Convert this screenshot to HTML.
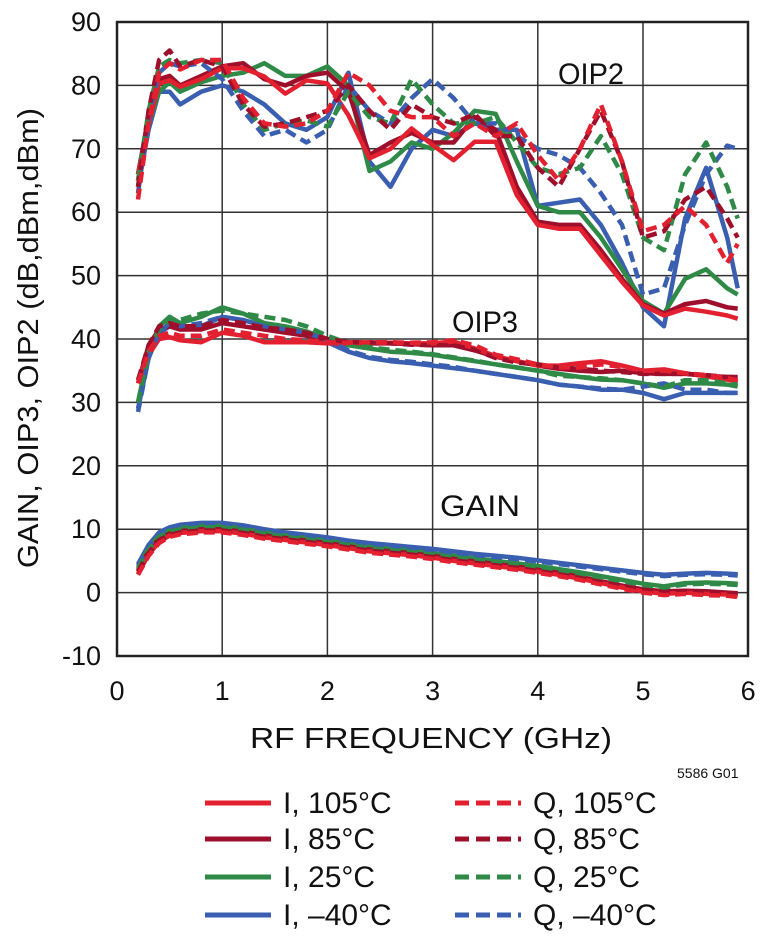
<!DOCTYPE html>
<html><head><meta charset="utf-8"><style>
html,body{margin:0;padding:0;background:#fff}
svg{display:block}
text{font-family:"Liberation Sans Narrow","Liberation Sans",sans-serif;fill:#111}
</style></head><body>
<svg id="chart" width="760" height="938" viewBox="0 0 760 938" xmlns="http://www.w3.org/2000/svg">
<g id="grid"></g>
<g id="series"></g>
<rect x="117" y="22" width="631" height="634" fill="none" stroke="#222" stroke-width="2.5"/>
<g id="ticks"></g>
<text x="558" y="84" font-size="30" textLength="66" lengthAdjust="spacingAndGlyphs">OIP2</text>
<text x="452" y="332" font-size="30" textLength="66" lengthAdjust="spacingAndGlyphs">OIP3</text>
<text x="440" y="516" font-size="30" textLength="80" lengthAdjust="spacingAndGlyphs">GAIN</text>
<text x="250" y="748" font-size="29" textLength="362" lengthAdjust="spacingAndGlyphs">RF FREQUENCY (GHz)</text>
<text transform="translate(38,338) rotate(-90)" text-anchor="middle" font-size="29" textLength="460" lengthAdjust="spacingAndGlyphs">GAIN, OIP3, OIP2 (dB,dBm,dBm)</text>
<text x="677" y="778" font-size="14">5586 G01</text>
<g id="legend"></g>
</svg>
<script>
const freqs=[0.2,0.3,0.4,0.5,0.6,0.8,1.0,1.2,1.4,1.6,1.8,2.0,2.2,2.4,2.6,2.8,3.0,3.2,3.4,3.6,3.8,4.0,4.2,4.4,4.6,4.8,5.0,5.2,5.4,5.6,5.8,5.9];
const xTicks=[0,1,2,3,4,5,6];
const yTicks=[90,80,70,60,50,40,30,20,10,0,-10];
const seriesNames=["I, 105°C","I, 85°C","I, 25°C","I, –40°C","Q, 105°C","Q, 85°C","Q, 25°C","Q, –40°C"];
const oip2_I105=[66,74,80.3,80.8,79.8,81,82.7,82.7,81.4,78.7,80.8,80.3,75.3,68.5,70,73.2,70.6,68.2,71.1,71.1,62.7,58,57.4,57.4,53.2,49,45.3,43.7,44.8,44.3,43.7,43.2];
const oip2_I85=[66,75,81,81.5,80,81.5,83,83.5,81,80,81.5,82,79,69,71,72.5,71,71,75,73,64,58.5,58,58,54,49.5,45.5,44,45.5,46,45,44.8];
const oip2_I25=[65,74,79,80.5,79,80.5,81.5,82,83.5,81.5,81.5,83,80,66.5,68,71,70,72.5,76,75.5,68,61,60,60,56,51,46,44,49.5,51,48,47];
const oip2_Im40=[64,73,79,79,77,79,80,79,77,74,73,75,82,68,64,70,73,72,74,73,73,61,61.5,62,58,52,45,42,59,67,56,48];
const oip2_Q105=[62,74,82,83.5,82.5,84,84,78,74,73.5,74,76,82,80,76,75,75,72,74,72,74,69,65,70,77,68,57,58,61,58,52,55];
const oip2_Q85=[64,76,84,85.5,83,84,83,77,73.5,74,75,76,80,76,73,77,75,74,75.5,72,72,67,64,70,76,68,56,57,62,64,59,56];
const oip2_Q25=[65,76,83,84,83.5,84,83.5,77,73,74,74.5,73.5,79,75,74,81,77,74,74,75,71,67,66,67,72,66,56,54,66,71,64,59];
const oip2_Qm40=[63,75,82,83.5,83,83.5,81,76,72,73,71,73,80,76,74,78,81,78,74,74,72,70,69,67,63,58,47,48,58,66,70.5,70];
const oip3_I105=[33.5,37.5,40,40.3,39.8,39.5,41,40.5,39.5,39.5,39.5,39.3,39.3,39.4,39.4,39.3,39.3,39.6,38.5,37.3,36.5,35.8,35.8,36.2,36.5,35.8,35,35.2,34.6,34.1,33.6,33.2];
const oip3_I85=[33,39,41.5,42,41.5,41.5,42.5,42,41.5,41,40.5,39.8,39.5,39.3,39.3,39.2,39,39,38.2,37.2,36.5,35.8,35.3,35,34.8,35,34.6,34.5,34.5,34.2,34,34];
const oip3_I25=[30,38,42,43.5,42.5,43.5,45,44,42.5,42,41.2,40,39,38.5,38,37.8,37.5,37,36.5,36,35.5,35,34.5,34,33.6,33.5,33,32.3,33,33,32.8,32.5];
const oip3_Im40=[29,37,41,42,41.5,42,43.5,43,42,41.5,40.8,39.5,38,37,36.5,36.2,35.8,35.4,35,34.5,34,33.5,32.8,32.5,32,32,31.5,30.5,31.5,31.5,31.5,31.5];
const oip3_Q105=[33,38,40.5,41,40.5,40.5,41.5,41,40.5,40,39.8,39.5,39.4,39.5,39.5,39.4,39.5,39.8,39,37.5,36.8,36,35.5,35.5,36,35.6,35,35,34.6,34.3,33.8,33.5];
const oip3_Q85=[33.5,39,42,42.5,42,42,43,42.5,41.8,41.5,41,40,39.5,39.5,39.3,39.1,39,39,38.3,37,36.3,36,35.5,35.3,35,34.8,34.5,34.5,34.5,34.3,34,34];
const oip3_Q25=[30,38,41.5,43,43,44,44.5,44,43.5,43,42,40.5,39.3,38.7,38.3,38,37.6,37.1,36.6,36,35.5,35,34.2,34,33.8,33.5,33,32.5,33.5,33.5,33,32.8];
const oip3_Qm40=[28.5,37,41,42.5,42,42.5,43.5,43,42,41.5,41,39.8,38.2,37.2,36.7,36.4,36,35.6,35,34.5,34,33.5,32.8,32.5,32.2,32,32.5,33,32,32,31.5,31.5];
const gain_I105=[3,6,8,9,9.4,9.7,9.7,9.3,8.7,8.3,7.9,7.5,7,6.5,6.2,5.9,5.5,5,4.6,4.2,3.8,3.3,2.8,2.2,1.5,0.8,0.2,-0.2,0,-0.2,-0.3,-0.5];
const gain_I85=[3.5,6.5,8.5,9.3,9.7,10,10,9.6,9,8.6,8.2,7.8,7.3,6.8,6.5,6.2,5.8,5.3,4.9,4.5,4.1,3.6,3.1,2.5,1.8,1.1,0.5,0.2,0.3,0.2,0,-0.1];
const gain_I25=[4,7,9,9.8,10.2,10.5,10.5,10.1,9.5,9,8.6,8.2,7.7,7.2,6.9,6.6,6.2,5.8,5.4,5,4.6,4.2,3.7,3.2,2.6,2,1.4,1,1.5,1.6,1.5,1.4];
const gain_Im40=[4.5,7.5,9.5,10.3,10.7,11,11,10.6,10,9.5,9.1,8.7,8.2,7.8,7.5,7.2,6.9,6.5,6.1,5.8,5.5,5.1,4.7,4.3,3.9,3.5,3.1,2.8,3,3.1,3,2.9];
const gain_Q105=[2.8,5.8,7.8,8.8,9.2,9.5,9.5,9.1,8.5,8.1,7.7,7.3,6.8,6.3,6,5.7,5.3,4.8,4.4,4,3.6,3.1,2.6,2,1.3,0.6,0,-0.4,-0.2,-0.4,-0.5,-0.7];
const gain_Q85=[3.3,6.3,8.3,9.1,9.5,9.8,9.8,9.4,8.8,8.4,8,7.6,7.1,6.6,6.3,6,5.6,5.1,4.7,4.3,3.9,3.4,2.9,2.3,1.6,0.9,0.3,0,0.1,0,-0.2,-0.3];
const gain_Q25=[3.8,6.8,8.8,9.6,10,10.3,10.3,9.9,9.3,8.8,8.4,8,7.5,7,6.7,6.4,6,5.6,5.2,4.8,4.4,4,3.5,3,2.4,1.8,1.2,0.8,1.3,1.4,1.3,1.2];
const gain_Qm40=[4.3,7.3,9.3,10.1,10.5,10.8,10.8,10.4,9.8,9.3,8.9,8.5,8,7.6,7.3,7,6.7,6.3,5.9,5.6,5.3,4.9,4.5,4.1,3.7,3.3,2.9,2.6,2.8,2.9,2.8,2.7];

const NS="http://www.w3.org/2000/svg";
const X0=117,XPX=105.2,Y0=22,YTOP=90,YPX=6.34;
function xs(f){return X0+f*XPX;}
function ys(v){return Y0+(YTOP-v)*YPX;}
const colors=["#e3202f","#9e0f2b","#2f8a47","#3a5fb1"];
const grid=document.getElementById('grid');
xTicks.forEach(t=>{
  const l=document.createElementNS(NS,'line');
  
  
  l.setAttribute('x1',xs(t));l.setAttribute('x2',xs(t));l.setAttribute('y1',ys(90));l.setAttribute('y2',ys(-10));
  l.setAttribute('stroke','#333');l.setAttribute('stroke-width','1.5');grid.appendChild(l);
});
yTicks.forEach(t=>{
  const l=document.createElementNS(NS,'line');
  
  
  l.setAttribute('x1',xs(0));l.setAttribute('x2',xs(6));l.setAttribute('y1',ys(t));l.setAttribute('y2',ys(t));
  l.setAttribute('stroke','#333');l.setAttribute('stroke-width','1.5');grid.appendChild(l);
});
const ticks=document.getElementById('ticks');
xTicks.forEach(t=>{
  const tx=document.createElementNS(NS,'text');
  
  
  tx.setAttribute('x',xs(t));tx.setAttribute('y',700);tx.setAttribute('text-anchor','middle');tx.setAttribute('font-size','27');
  tx.textContent=t;ticks.appendChild(tx);
});
yTicks.forEach(t=>{
  const tx=document.createElementNS(NS,'text');
  
  
  tx.setAttribute('x',101);tx.setAttribute('y',ys(t)+9);tx.setAttribute('text-anchor','end');tx.setAttribute('font-size','27');
  tx.textContent=t;ticks.appendChild(tx);
});
const groups=[
 ["oip2",[oip2_I105,oip2_I85,oip2_I25,oip2_Im40,oip2_Q105,oip2_Q85,oip2_Q25,oip2_Qm40]],
 ["oip3",[oip3_I105,oip3_I85,oip3_I25,oip3_Im40,oip3_Q105,oip3_Q85,oip3_Q25,oip3_Qm40]],
 ["gain",[gain_I105,gain_I85,gain_I25,gain_Im40,gain_Q105,gain_Q85,gain_Q25,gain_Qm40]]
];
const sg=document.getElementById('series');
const order=[3,2,1,0,7,6,5,4];
groups.forEach(([g,arrs])=>{
  order.forEach(i=>{
    const vals=arrs[i];
    const d=vals.map((v,k)=>(k?'L':'M')+xs(freqs[k]).toFixed(1)+','+ys(v).toFixed(1)).join('');
    const p=document.createElementNS(NS,'path');
    
    
    p.setAttribute('d',d);p.setAttribute('fill','none');p.setAttribute('stroke',colors[i%4]);
    p.setAttribute('stroke-width','4.5');p.setAttribute('stroke-linejoin','round');
    if(i>=4)p.setAttribute('stroke-dasharray','11 6');
    sg.appendChild(p);
  });
});
const lg=document.getElementById('legend');
const rowsY=[803,839,877,915];
seriesNames.forEach((n,i)=>{
  const col=i<4?0:1,row=i%4;
  const lx=col?455:205,ty=rowsY[row];
  const ln=document.createElementNS(NS,'line');
  
  
  ln.setAttribute('x1',lx);ln.setAttribute('x2',lx+66);ln.setAttribute('y1',ty);ln.setAttribute('y2',ty);
  ln.setAttribute('stroke',colors[row]);ln.setAttribute('stroke-width','5');
  if(col)ln.setAttribute('stroke-dasharray','14 7');
  lg.appendChild(ln);
  const tx=document.createElementNS(NS,'text');
  
  
  tx.setAttribute('x',lx+78);tx.setAttribute('y',ty+10);tx.setAttribute('font-size','30');
  tx.textContent=n;lg.appendChild(tx);
});
</script>
</body></html>
